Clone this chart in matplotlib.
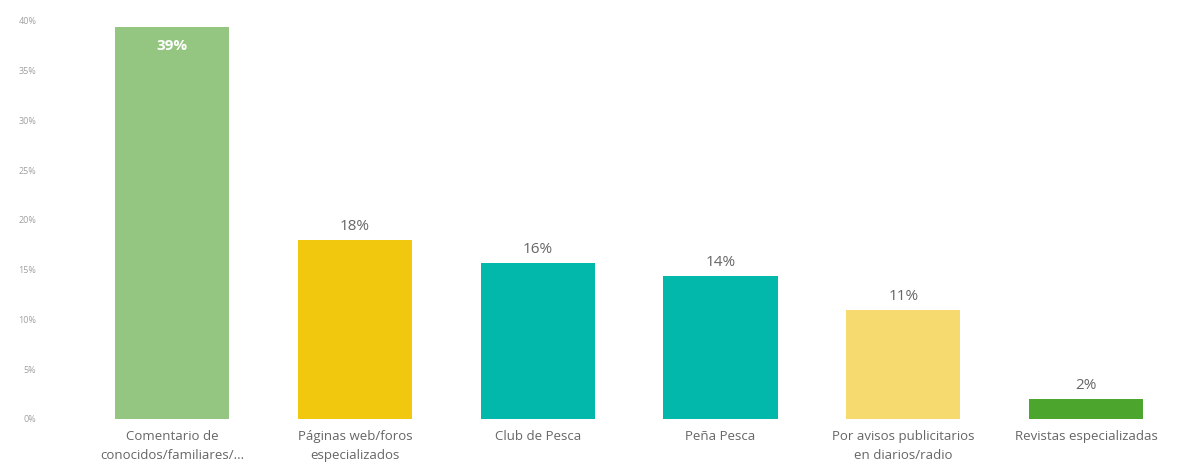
import matplotlib.pyplot as plt
from matplotlib.ticker import FuncFormatter

categories = ['Comentario de\nconocidos/familiares/...', 'Páginas web/foros\nespecializados',
              'Club de Pesca', 'Peña Pesca', 'Por avisos publicitarios\nen diarios/radio',
              'Revistas especializadas']
values = [39.4, 18.0, 15.7, 14.4, 11.0, 2.0]
labels = ['39%', '18%', '16%', '14%', '11%', '2%']
colors = ['#95C681', '#F2C80F', '#01B8AA', '#01B8AA', '#F6D96F', '#4CA62E']

TEXT_COLOR = '#666666'
TICK_COLOR = '#A0A0A0'

plt.rcParams['font.family'] = ['Open Sans', 'DejaVu Sans']

figure = plt.figure(figsize=(11.85, 4.74), dpi=100, facecolor='white')
axes = figure.add_axes([60 / 1185, 1 - 419 / 474, 1110 / 1185, 398 / 474])

x = list(range(len(categories)))
axes.bar(x, values, width=0.625, color=colors)
axes.set_xlim(-0.615, 5.46)
axes.set_ylim(0, 40)
axes.set_yticks(range(0, 41, 5))
axes.yaxis.set_major_formatter(FuncFormatter(lambda v, _: f'{v:.0f}%'))
axes.set_xticks(x, categories)
for tick_label in axes.get_xticklabels():
    tick_label.set_linespacing(1.55)

for spine in axes.spines.values():
    spine.set_visible(False)
axes.tick_params(axis='y', length=0, colors=TICK_COLOR, labelsize=6.5, pad=17)
axes.tick_params(axis='x', length=0, colors=TEXT_COLOR, labelsize=9.5, pad=8)

# value labels: first one inside the bar, rest above
for i, (val, lab) in enumerate(zip(values, labels)):
    if i == 0:
        axes.text(i, val - 1.2, lab, ha='center', va='top', color='white',
                  fontsize=11, fontweight='bold')
    else:
        axes.text(i, val + 0.6, lab, ha='center', va='bottom', color=TEXT_COLOR, fontsize=11)

figure.savefig('out.png', dpi=100, facecolor='white')
